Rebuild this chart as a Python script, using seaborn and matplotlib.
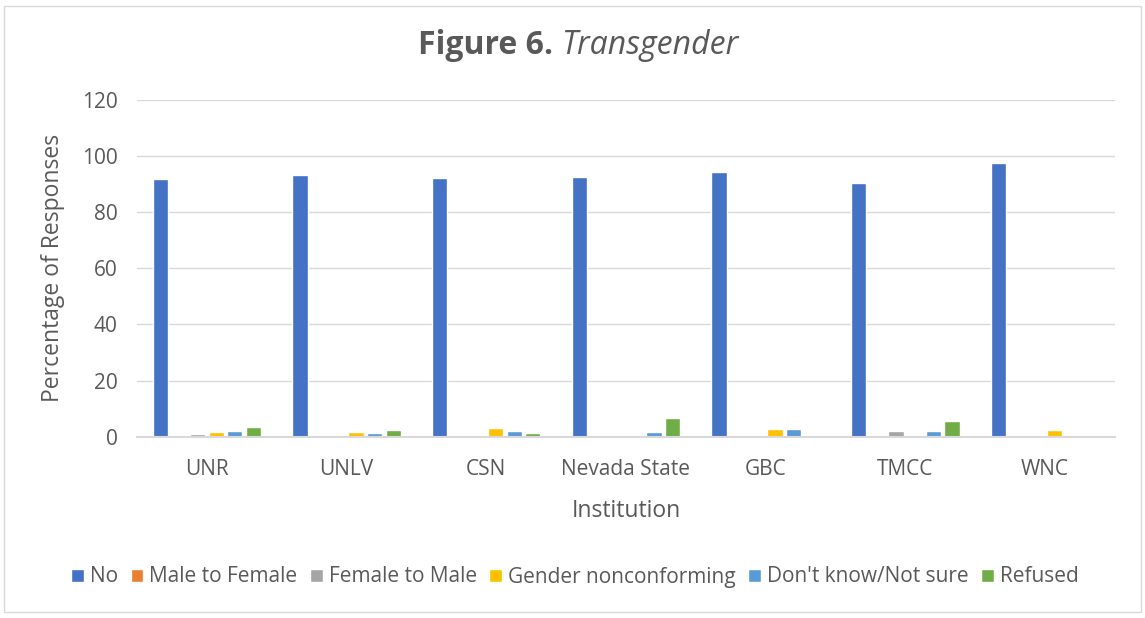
import pandas as pd
import matplotlib.pyplot as plt
import seaborn as sns
from matplotlib.patches import Rectangle

institutions = ["UNR", "UNLV", "CSN", "Nevada State", "GBC", "TMCC", "WNC"]
responses = ["No", "Male to Female", "Female to Male", "Gender nonconforming",
             "Don't know/Not sure", "Refused"]

no_vals = [92.0, 93.4, 92.2, 92.6, 94.5, 90.3, 97.6]
mtf_vals = [0.0, 0.3, 0.0, 0.0, 0.0, 0.0, 0.0]
ftm_vals = [0.8, 0.6, 0.5, 0.0, 0.0, 1.9, 0.0]
gnc_vals = [1.7, 1.7, 3.0, 0.0, 2.6, 0.0, 2.3]
dk_vals = [1.9, 1.4, 2.2, 1.5, 2.6, 1.9, 0.0]
ref_vals = [3.5, 2.5, 1.2, 6.8, 0.0, 5.5, 0.0]

colors = ["#4472C4", "#ED7D31", "#A5A5A5", "#FFC000", "#5B9BD5", "#70AD47"]
TXT = "#595959"

series = [no_vals, mtf_vals, ftm_vals, gnc_vals, dk_vals, ref_vals]
rows = []
for resp, vals in zip(responses, series):
    for inst, v in zip(institutions, vals):
        rows.append({"Institution": inst, "Response": resp, "Percent": v})
df = pd.DataFrame(rows)

sns.set_style("white")
plt.rcParams['font.family'] = ['Open Sans', 'DejaVu Sans']

fig = plt.figure(figsize=(11.45, 6.18), dpi=100)
ax = fig.add_axes([0.1197, 0.2934, 0.854, 0.5448])

sns.barplot(data=df, x="Institution", y="Percent", hue="Response",
            hue_order=responses, order=institutions, palette=colors,
            saturation=1, width=0.8, gap=0.18, ax=ax, legend=True)

ax.set_ylim(0, 120)
ax.set_yticks(range(0, 121, 20))
ax.yaxis.grid(True, color="#D9D9D9", linewidth=1)
ax.set_axisbelow(True)
for s in ["top", "right", "left"]:
    ax.spines[s].set_visible(False)
ax.spines["bottom"].set_color("#D9D9D9")
ax.spines["bottom"].set_linewidth(1.5)
ax.tick_params(axis="both", length=0, labelsize=15, labelcolor=TXT)
ax.tick_params(axis="y", pad=14)
ax.tick_params(axis="x", pad=16)
ax.set_xlabel("Institution", fontsize=16.5, color=TXT, labelpad=14)
ax.set_ylabel("Percentage of Responses", fontsize=16.5, color=TXT, labelpad=12)

handles, labels = ax.get_legend_handles_labels()
ax.get_legend().remove()
fig.legend(handles, labels, loc="center", bbox_to_anchor=(575 / 1145, 1 - 577 / 618),
           ncol=6, frameon=False, fontsize=15, labelcolor=TXT,
           handlelength=0.6, handleheight=0.6, handletextpad=0.3,
           columnspacing=0.6)

t1 = fig.text(0.5, 1 - 45 / 618, "Figure 6. ", fontsize=23, fontweight="bold",
              color=TXT, ha="right", va="center")
t2 = fig.text(0.5, 1 - 45 / 618, "Transgender", fontsize=23, fontstyle="italic",
              color=TXT, ha="left", va="center")
# center the combined title
fig.canvas.draw()
r = fig.canvas.get_renderer()
w1 = t1.get_window_extent(r).width / fig.bbox.width
w2 = t2.get_window_extent(r).width / fig.bbox.width
shift = (w1 - w2) / 2
t1.set_x(0.5 + shift + 0.005)
t2.set_x(0.5 + shift + 0.005)

fig.patches.append(Rectangle((4 / 1145, 6 / 618), 1137 / 1145, 606 / 618,
                             transform=fig.transFigure, fill=False,
                             edgecolor="#D9D9D9", linewidth=1))

fig.savefig("out.png", dpi=100)
